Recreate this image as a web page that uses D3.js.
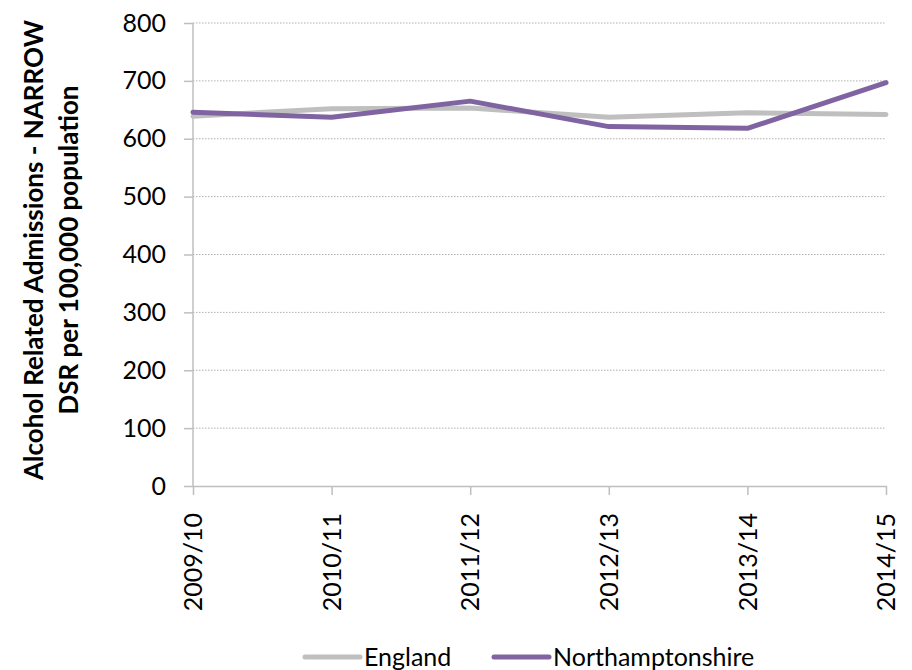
<!DOCTYPE html>
<html>
<head>
<meta charset="utf-8">
<script src="https://cdn.jsdelivr.net/npm/d3@7"></script>
<style>
    body { margin: 0; background: #fff; }
    svg { font-family: Lato, "Open Sans", sans-serif; }
</style>
</head>
<body>
<div id="chart"></div>
<script>
// data
const years = ['2009/10', '2010/11', '2011/12', '2012/13', '2013/14', '2014/15'];
const england = [639, 652, 653, 637, 645, 642];
const northants = [646, 637, 665, 621, 618, 697];
const yTicks = [0, 100, 200, 300, 400, 500, 600, 700, 800];
const seriesNames = ['England', 'Northamptonshire'];
const seriesColors = ['#bfbfbf', '#8064a2'];

const width = 912;
const height = 670;

const svg = d3.select('#chart')
    .append('svg')
    .attr('width', width)
    .attr('height', height);

// plot area
const margin = { top: 23, right: 26, bottom: 184, left: 193 };
const graphWidth = width - margin.left - margin.right;
const graphHeight = height - margin.top - margin.bottom;

const graph = svg.append('g')
    .attr('transform', `translate(${ margin.left }, ${ margin.top })`);

// scales
const x = d3.scalePoint()
    .domain(years)
    .range([0, graphWidth]);

const y = d3.scaleLinear()
    .domain([0, 800])
    .range([graphHeight, 0]);

// dotted gridlines
graph.append('g')
    .selectAll('line')
    .data(yTicks.filter(d => d > 0))
    .enter()
    .append('line')
    .attr('x1', 0)
    .attr('x2', graphWidth)
    .attr('y1', d => y(d))
    .attr('y2', d => y(d))
    .attr('stroke', '#b0b0b0')
    .attr('stroke-width', 1)
    .attr('stroke-dasharray', '1.5,1.5');

// axes
const yAxis = d3.axisLeft(y)
    .tickValues(yTicks)
    .tickSize(9)
    .tickPadding(18);

const xAxis = d3.axisBottom(x)
    .tickSize(9)
    .tickSizeOuter(0);

const yAxisGroup = graph.append('g').call(yAxis);
const xAxisGroup = graph.append('g')
    .attr('transform', `translate(0, ${ graphHeight })`)
    .call(xAxis);

yAxisGroup.select('path.domain')
    .attr('d', `M0,${ graphHeight }V0`)
    .attr('stroke', '#bfbfbf')
    .attr('stroke-width', 1.5);
yAxisGroup.selectAll('line')
    .attr('stroke', '#bfbfbf')
    .attr('stroke-width', 1.5);
yAxisGroup.selectAll('text')
    .attr('font-size', 25)
    .attr('fill', '#000');

xAxisGroup.select('path.domain')
    .attr('stroke', '#bfbfbf')
    .attr('stroke-width', 1.5);
xAxisGroup.selectAll('line')
    .attr('stroke', '#bfbfbf')
    .attr('stroke-width', 1.5);
xAxisGroup.selectAll('text')
    .attr('font-size', 25)
    .attr('fill', '#000')
    .attr('text-anchor', 'end')
    .attr('transform', 'rotate(-90)')
    .attr('x', -27)
    .attr('y', 0)
    .attr('dy', '0.35em');

svg.selectAll('g').attr('font-family', null);

// lines
const line = d3.line()
    .x((d, i) => x(years[i]))
    .y(d => y(d));

[england, northants].forEach((series, i) => {
    graph.append('path')
        .datum(series)
        .attr('d', line)
        .attr('fill', 'none')
        .attr('stroke', seriesColors[i])
        .attr('stroke-width', 5)
        .attr('stroke-linejoin', 'round')
        .attr('stroke-linecap', 'round');
});

// y axis title
const title = svg.append('text')
    .attr('transform', 'translate(43, 250) rotate(-90)')
    .attr('text-anchor', 'middle')
    .attr('font-weight', 'bold')
    .attr('font-size', 26)
    .attr('fill', '#000');
title.append('tspan').attr('x', 0).attr('y', 0).text('Alcohol Related Admissions - NARROW');
title.append('tspan').attr('x', 0).attr('y', 35).text('DSR per 100,000 population');

// legend
const legendX = [305, 494];
const legend = svg.append('g')
    .selectAll('g')
    .data(seriesNames)
    .enter()
    .append('g')
    .attr('transform', (d, i) => `translate(${ legendX[i] }, 657)`);

legend.append('line')
    .attr('x1', 0)
    .attr('x2', 55)
    .attr('stroke', (d, i) => seriesColors[i])
    .attr('stroke-width', 5)
    .attr('stroke-linecap', 'round');

legend.append('text')
    .attr('x', 59)
    .attr('dy', '0.35em')
    .attr('font-size', 25)
    .attr('fill', '#000')
    .text(d => d);
</script>
</body>
</html>
